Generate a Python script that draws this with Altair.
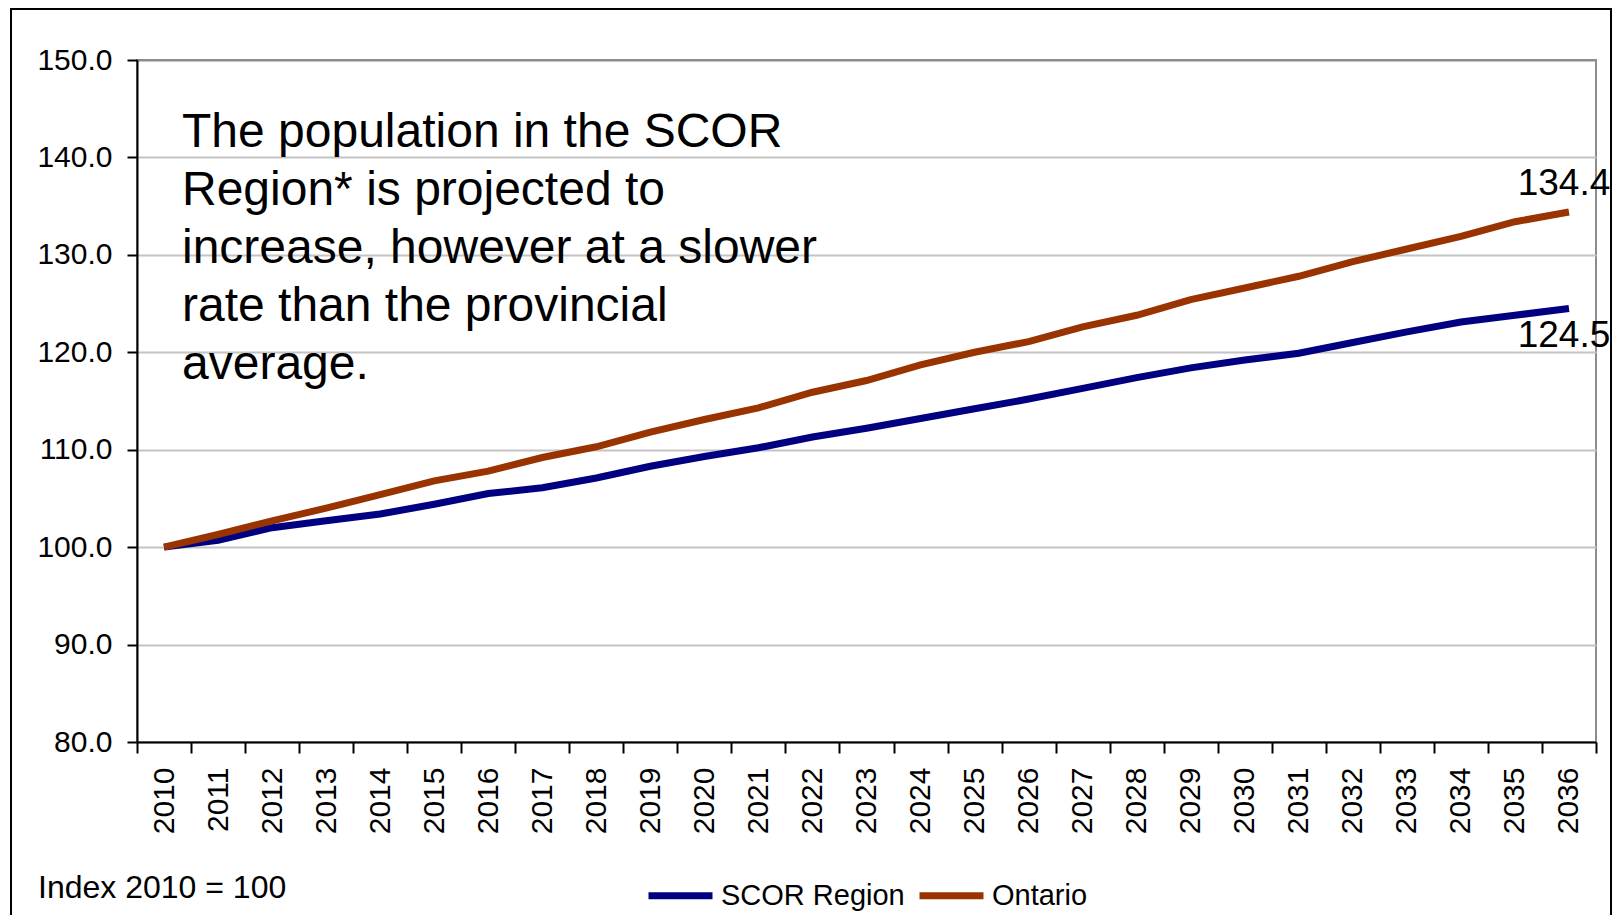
import altair as alt
import pandas as pd

FONT = "Liberation Sans"

years = [str(y) for y in range(2010, 2037)]
scor_region = [100.0, 100.7, 102.0, 102.7, 103.4, 104.4, 105.5, 106.1, 107.1, 108.3,
               109.3, 110.2, 111.3, 112.2, 113.2, 114.2, 115.2, 116.3, 117.4, 118.4,
               119.2, 119.9, 121.0, 122.1, 123.1, 123.8, 124.5]
ontario = [100.0, 101.3, 102.7, 104.0, 105.4, 106.8, 107.8, 109.2, 110.3, 111.8,
           113.1, 114.3, 115.9, 117.1, 118.7, 120.0, 121.1, 122.6, 123.8, 125.4,
           126.6, 127.8, 129.3, 130.6, 131.9, 133.4, 134.4]
series_names = ["SCOR Region", "Ontario"]
series_colors = ["#000080", "#993300"]
y_ticks = [80, 90, 100, 110, 120, 130, 140, 150]
note_lines = [
    "The population in the SCOR",
    "Region* is projected to",
    "increase, however at a slower",
    "rate than the provincial",
    "average.",
]
index_note = "Index 2010 = 100"

df = pd.DataFrame({
    "year": years * 2,
    "value": scor_region + ontario,
    "series": [series_names[0]] * len(years) + [series_names[1]] * len(years),
})
last = df[df["year"] == years[-1]]

W, H = 1459, 682

x_enc = alt.X(
    "year:O",
    bandPosition=0.5,
    scale=alt.Scale(type="band", paddingInner=0, paddingOuter=0),
    axis=alt.Axis(
        title=None, labelAngle=-90, labelFontSize=30, labelFont=FONT, labelColor="black",
        tickBand="extent", tickSize=11, tickWidth=2, tickColor="black",
        domainColor="black", domainWidth=2, labelPadding=14, grid=False,
    ),
)
y_enc = alt.Y(
    "value:Q",
    scale=alt.Scale(domain=[80, 150], nice=False, zero=False),
    axis=alt.Axis(
        title=None, values=y_ticks, format=".1f", labelFontSize=30, labelFont=FONT,
        labelColor="black", tickSize=10, tickWidth=2, tickColor="black",
        domainColor="black", domainWidth=2, labelPadding=15,
        gridColor=alt.condition("datum.value == 150", alt.value("#8c8c8c"), alt.value("#c4c4c4")),
        gridWidth=2,
    ),
)

color_enc = alt.Color(
    "series:N",
    scale=alt.Scale(domain=series_names, range=series_colors),
    legend=alt.Legend(
        title=None, orient="none", legendX=508, legendY=800, direction="horizontal",
        symbolType="stroke", symbolSize=4096, symbolStrokeWidth=7, symbolOpacity=1,
        labelFontSize=29, labelFont=FONT, labelColor="black", labelOffset=5,
        labelLimit=400, columnPadding=0, padding=0,
    ),
)

lines = alt.Chart(df).mark_line(strokeWidth=7).encode(x=x_enc, y=y_enc, color=color_enc)

label_ont = alt.Chart(last[last["series"] == "Ontario"]).mark_text(
    fontSize=37, font=FONT, color="black", align="center", baseline="alphabetic", dx=-5, dy=-17
).encode(x=alt.X("year:O", bandPosition=0.5), y="value:Q", text=alt.Text("value:Q", format=".1f"))

label_scor = alt.Chart(last[last["series"] == "SCOR Region"]).mark_text(
    fontSize=37, font=FONT, color="black", align="center", baseline="alphabetic", dx=-5, dy=39
).encode(x=alt.X("year:O", bandPosition=0.5), y="value:Q", text=alt.Text("value:Q", format=".1f"))

note_layers = []
for i, line in enumerate(note_lines):
    note_layers.append(
        alt.Chart(pd.DataFrame({"t": [line]})).mark_text(
            fontSize=48, font=FONT, color="black", align="left", baseline="alphabetic"
        ).encode(text="t:N", x=alt.value(45), y=alt.value(87 + 58 * i))
    )

index_layer = alt.Chart(pd.DataFrame({"t": [index_note]})).mark_text(
    fontSize=32, font=FONT, color="black", align="left", baseline="alphabetic"
).encode(text="t:N", x=alt.value(-99), y=alt.value(838))

border = alt.Chart(pd.DataFrame({"a": [0]})).mark_rect(
    fill="white", fillOpacity=0, stroke="black", strokeWidth=2
).encode(x=alt.value(-126), x2=alt.value(1474), y=alt.value(-51), y2=alt.value(1000))

chart = alt.layer(border, lines, label_ont, label_scor, *note_layers, index_layer).properties(
    width=W, height=H,
    padding={"left": 129, "top": 52, "right": 16, "bottom": 173},
    autosize=alt.AutoSizeParams(type="none"),
    background="white",
).configure_view(stroke="#8c8c8c", strokeWidth=2)

chart.save("out.html", embed_options={"renderer": "svg", "actions": False})
